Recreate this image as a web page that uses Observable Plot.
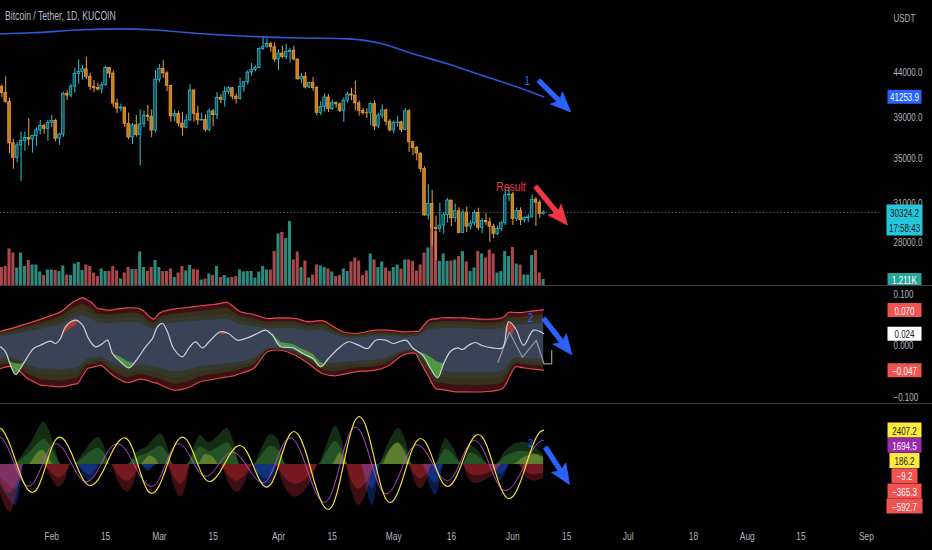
<!DOCTYPE html>
<html><head><meta charset="utf-8">
<script src="https://cdn.jsdelivr.net/npm/d3@7"></script>
<script src="https://cdn.jsdelivr.net/npm/@observablehq/plot@0.6"></script>
<style>
html,body{margin:0;padding:0;background:#000;}
#chart{position:relative;width:932px;height:550px;background:#000;overflow:hidden;font-family:"Liberation Sans",Arial,sans-serif;}
.layer{position:absolute;left:0;}
.layer svg{display:block;}
.sep{position:absolute;left:0;width:932px;height:1px;background:#3a3e49;}
#title{position:absolute;left:5px;top:9px;color:#b8bcc6;font-size:12px;white-space:nowrap;transform:scaleX(0.72);transform-origin:0 50%;}
</style></head><body>
<div id="chart"></div>
<script>
// ---------- DATA ----------
const startDay = Date.UTC(2022, 0, 18); // first candle: 2022-01-18
const DAY = 864e5;
const dayToDate = d => new Date(startDay + d * DAY);

const opens = [42195,42364,41660,40680,36445,35071,36244,36660,36958,36809,37160,37716,38166,37881,38466,38694,36896,37311,41571,41382,42380,43839,44043,44373,43495,42373,42217,42053,42535,44544,43873,40516,39975,40080,38387,37018,38231,37250,38328,39219,39116,37699,43160,44421,43892,42455,39148,39397,38420,37988,38731,41941,39422,38730,38807,37777,39671,39280,41114,40917,41757,42201,41262,41002,42364,42882,43991,44313,44511,46827,47128,47466,47062,45539,46281,45868,46454,46623,45555,43206,43503,42287,42782,42207,39521,40127,41166,39935,40553,40424,39716,40827,41502,41374,40527,39741,39486,39470,40458,38120,39241,39773,38609,37714,38469,38529,37751,39690,36552,36013,35472,34038,30077,31017,29103,29030,29287,30101,31305,29862,30425,28716,30319,29201,29445,30293,29109,29655,29543,29202,28627,29031,29468,31734,31801,29805,30452,29700,29865,29920,31373,31125,30196];
const highs = [42691,42560,43505,41100,36835,36499,37550,37545,38920,37234,38000,38720,38359,38744,39265,38855,37387,41772,41913,42656,44500,45492,44799,45821,43920,43079,42760,42842,44751,44549,44164,40959,40444,40126,39495,38432,39250,39843,39683,40300,39855,44225,44949,45400,44101,42527,39794,39693,39547,39362,42594,42039,40236,39486,39310,39947,39887,41718,41478,42325,42400,42296,41544,43361,42893,44220,45094,44792,46999,48190,48096,47700,47600,46720,47213,47444,46891,47200,45555,43900,43970,42800,43410,42414,40700,41561,41500,40870,40709,40596,41116,41760,42199,42976,40795,39980,39940,40617,40798,39474,40372,39925,38795,38675,39167,38653,39980,39845,36650,36146,35514,34243,32659,32163,30033,31083,30343,31460,31305,31020,30700,30545,30777,29660,30487,30670,29835,30223,29886,29400,29251,29588,32222,32399,31982,30689,30699,29956,30168,31765,31558,31330,30440];
const lows = [41250,41138,40553,35440,34008,34601,32917,35701,36193,35507,36155,37268,37351,36632,38000,36586,36250,37026,40843,41116,41645,42666,43117,43174,41938,41688,41870,41550,42428,43307,40073,39450,39639,38000,36800,36350,37036,34322,38014,38600,37000,37451,42809,43334,41832,38550,38587,38089,37155,37867,38657,38539,38223,38660,37578,37555,38098,38828,40500,40135,41499,40911,40467,40875,41751,42566,43579,44072,44421,46664,46950,46445,45200,44200,45620,45530,45118,45353,43121,42727,42107,42126,41868,39200,39254,39588,39551,39766,40020,39546,38536,40571,40820,39751,39177,39285,38929,38200,37702,37881,38881,38175,37578,37386,38052,37500,37671,35571,35258,34785,33713,30033,29730,27785,26700,28751,28630,29480,29192,29531,28654,28670,28730,28938,29255,28894,28669,29295,28019,28282,28517,28813,29300,31200,29301,29594,29282,29485,29508,29889,29219,29850,30120];
const closes = [42364,41660,40680,36445,35071,36244,36660,36958,36809,37160,37716,38166,37881,38466,38694,36896,37311,41574,41382,42380,43839,44042,44373,43495,42373,42217,42053,42535,44544,43873,40515,39975,40080,38387,37018,38231,37250,38328,39219,39116,37700,43160,44421,43892,42455,39148,39397,38420,37988,38731,41941,39422,38730,38807,37777,39671,39280,41114,40917,41757,42201,41262,41002,42364,42882,43991,44313,44511,46827,47128,47465,47062,45539,46281,45868,46454,46623,45555,43206,43503,42287,42782,42207,39521,40127,41166,39935,40553,40424,39716,40826,41502,41374,40527,39741,39486,39470,40458,38120,39241,39773,38609,37714,38469,38529,37751,39690,36552,36013,35472,34038,30077,31017,29103,29030,29287,30101,31305,29862,30425,28716,30319,29201,29445,30293,29109,29655,29543,29202,28627,29031,29468,31734,31801,29805,30452,29700,29865,29920,31373,31125,30196,30324.2];
// volume, thousands of BTC
const volumes = [4.0,3.6,3.8,7.3,6.5,3.5,6.5,3.8,5.0,4.1,4.1,2.7,2.0,3.1,3.1,3.0,2.8,3.9,2.1,2.0,4.3,4.6,3.0,4.1,3.8,2.5,1.8,3.3,2.8,2.8,3.8,2.9,1.3,2.5,3.6,3.2,3.2,6.7,3.6,2.8,3.6,5.0,3.6,2.8,2.8,3.3,1.6,2.5,3.8,2.9,4.0,3.2,3.1,1.1,1.3,2.3,2.0,3.8,1.6,2.0,1.5,1.6,1.8,3.1,2.7,2.8,2.8,1.5,2.7,3.8,3.1,3.1,6.8,10.3,10.6,9.4,12.8,5.1,6.7,3.6,4.9,1.5,2.1,4.1,3.9,3.6,3.3,2.7,1.8,2.0,3.3,2.8,4.7,5.5,4.9,2.0,2.9,6.3,5.1,3.6,4.7,3.5,2.8,3.6,4.1,3.3,5.1,5.1,4.8,2.9,4.1,6.5,7.5,11.5,10.8,4.8,6.3,4.8,4.9,5.1,5.8,6.8,4.7,2.8,3.5,6.8,6.3,5.5,7.1,6.3,2.5,2.8,6.8,5.8,7.6,4.3,4.1,2.1,2.1,6.0,7.0,2.5,1.211];
// moving average (blue line), sampled
const maDays = [0,9,22,32,40,53,66,79,91,100,108,117,126,134,142];
const maValues = [48740,48900,49290,49420,49290,48770,48420,48230,48120,47490,46240,45030,43650,42500,41253.9];
const priceTicks = [28000,31000,35000,39000,44000];

// oscillator panel
const bandDays = [0.65,4,7.7,9.2,11.1,12.9,16.3,19.6,20.7,22,23.3,24.1,25.9,26.7,29.3,30.1,33.7,37.1,40.5,41.5,42.3,45.7,49.3,52.7,56.1,57.1,59.7,61.3,63.1,66.5,70.1,73.5,77.4,80.8,84.5,87.8,89.7,93,98.3,101.6,105.3,108.7,109.5,112.1,113.9,115.7,119.1,120.9,126.1,131.3,132.9,134.7,136.5,138.1,142];
const bandUpper = [0.0287,0.0353,0.0436,0.0470,0.0520,0.0567,0.0664,0.0858,0.0894,0.0936,0.0888,0.0858,0.0728,0.0720,0.0695,0.0704,0.0742,0.0715,0.0520,0.0592,0.0650,0.0715,0.0748,0.0781,0.0806,0.0817,0.0845,0.0760,0.0664,0.0612,0.0534,0.0548,0.0534,0.0470,0.0489,0.0354,0.0276,0.0243,0.0307,0.0307,0.0276,0.0285,0.0287,0.0501,0.0525,0.0548,0.0548,0.0548,0.0520,0.0548,0.0650,0.0650,0.0650,0.0670,0.0700];
const bandLower = [-0.0437,-0.0404,-0.0631,-0.0688,-0.0761,-0.0772,-0.0792,-0.0744,-0.0728,-0.0583,-0.0437,-0.0422,-0.0388,-0.0373,-0.0530,-0.0579,-0.0709,-0.0645,-0.0709,-0.0728,-0.0753,-0.0858,-0.0812,-0.0695,-0.0645,-0.0631,-0.0599,-0.0579,-0.0530,-0.0437,-0.0113,-0.0082,-0.0179,-0.0340,-0.0534,-0.0579,-0.0551,-0.0501,-0.0470,-0.0384,-0.0179,-0.0146,-0.0252,-0.0598,-0.0825,-0.0847,-0.0889,-0.0889,-0.0889,-0.0825,-0.0627,-0.0404,-0.0421,-0.0437,-0.0470];
const whiteDays = [0.65,1.95,3.25,4.55,5.86,7.68,9.24,11.06,13.66,14.97,16.27,17.57,20.17,22.0,23.55,25.38,27.2,28.5,29.8,31.9,34.0,36.3,38.4,40.2,41.5,42.8,44.1,45.7,48.0,49.6,51.4,53.2,55.3,57.9,60.0,62.3,64.9,67.5,69.6,71.4,73.5,76.7,79.3,81.9,84.0,86.0,88.6,91.2,93.8,96.2,98.3,100.9,102.9,106.1,108.1,110.5,112.6,114.4,116.0,117.8,119.6,120.9,122.5,124.3,126.1,128.7,131.3,132.9,134.7,136.8,139.4,142];
const whiteValues = [-0.0016,-0.0113,-0.0373,-0.0553,-0.0437,-0.0210,-0.0049,0.0016,0.0093,0.0049,0.0146,0.0373,0.0501,0.0404,0.0146,-0.0016,0.0049,0.0113,-0.0146,-0.0307,-0.0423,-0.0243,-0.0016,0.0146,0.0373,0.0437,0.0276,-0.0049,-0.0210,-0.0049,0.0082,-0.0035,0.0113,0.0276,0.0243,0.0113,0.0159,0.0243,0.0307,0.0210,-0.0010,-0.0035,-0.0146,-0.0243,-0.0404,-0.0243,-0.0049,0.0082,0.0016,-0.0049,0.0113,0.0113,0.0049,0.0113,-0.0049,-0.0179,-0.0437,-0.0617,-0.0340,-0.0101,-0.0035,-0.0068,0.0016,0.0068,0.0004,-0.0035,-0.0035,0.0470,0.0340,0.0016,0.0307,0.024];
const zigDays = [130.1,133.1,136.5,140.1,142.1,144.1,144.1];
const zigValues = [-0.0315,0.0268,-0.0217,0.0107,-0.0346,-0.0346,-0.0087];
// [day, low, high]
const greenPatches = [
  [[2.0,-0.011,-0.011],[3.25,-0.037,-0.031],[4.55,-0.055,-0.034],[5.86,-0.044,-0.035],[7.0,-0.031,-0.031]],
  [[29.8,-0.0146,-0.0146],[31.9,-0.0307,-0.022],[34.0,-0.0423,-0.031],[35.3,-0.033,-0.033]],
  [[71.4,0.021,0.026],[73.5,-0.001,0.008],[76.7,-0.0035,0.003],[79.3,-0.0146,-0.007],[81.9,-0.0243,-0.016],[84.0,-0.0404,-0.032],[85.0,-0.034,-0.034]],
  [[109.5,-0.012,-0.012],[110.5,-0.0179,-0.014],[112.6,-0.0437,-0.022],[114.4,-0.0617,-0.031],[116.0,-0.034,-0.034]]
];
const redPatches = [
  [[16.27,0.0146,0.0146],[17.57,0.026,0.0373],[19.0,0.034,0.046],[20.17,0.040,0.0501],[21.0,0.046,0.046]],
  [[57.4,0.025,0.025],[58.5,0.022,0.028],[59.5,0.024,0.024]],
  [[132.0,0.022,0.022],[132.9,0.027,0.047],[133.8,0.022,0.040],[134.7,0.034,0.034]]
];
const oscTicks = [0.1, 0, -0.1];

// wave panel (daily)
const yellowWave = [2600,2463,2066,1460,717,-77,-820,-1426,-1823,-1960,-1768,-1231,-456,406,1181,1718,1910,1781,1415,867,220,-427,-975,-1341,-1470,-1370,-1079,-635,-91,491,1035,1479,1770,1870,1677,1135,355,-515,-1295,-1837,-2030,-1880,-1453,-814,-60,694,1333,1760,1910,1757,1326,706,14,-606,-1037,-1190,-1094,-821,-413,70,553,961,1234,1330,1185,780,196,-456,-1040,-1445,-1590,-1397,-855,-75,795,1575,2117,2310,2146,1671,945,55,-895,-1785,-2511,-2986,-3150,-2903,-2196,-1142,105,1352,2406,3113,3360,3131,2478,1503,350,-803,-1778,-2431,-2660,-2490,-2004,-1278,-420,438,1164,1650,1820,1654,1187,515,-235,-907,-1374,-1540,-1402,-1007,-417,280,977,1567,1962,2100,1930,1444,718,-140,-998,-1724,-2210,-2380,-2236,-1820,-1183,-403,430,1210,1847,2263,2407.2];
const purpleWave = [1980,1847,1467,900,230,-440,-1007,-1387,-1520,-1373,-960,-366,296,890,1303,1450,1350,1063,636,130,-376,-803,-1090,-1190,-1090,-803,-376,130,636,1063,1350,1450,1360,1100,703,215,-305,-793,-1190,-1450,-1540,-1392,-976,-378,288,886,1302,1450,1338,1022,568,62,-392,-708,-820,-737,-503,-167,207,543,777,860,779,546,200,-210,-620,-966,-1199,-1280,-1124,-686,-56,646,1276,1714,1870,1735,1342,743,7,-777,-1513,-2112,-2505,-2640,-2440,-1871,-1020,-15,990,1841,2410,2610,2433,1927,1172,280,-612,-1367,-1873,-2050,-1920,-1547,-992,-335,322,877,1250,1380,1285,1014,609,130,-349,-754,-1025,-1120,-981,-592,-32,592,1152,1541,1680,1547,1167,600,-70,-740,-1307,-1687,-1820,-1734,-1484,-1096,-606,-63,480,970,1359,1608,1694.5];
const greenPts = [[0.65,0],[4,0],[7,900],[9,1700],[11,2700],[12,2960],[13.5,2300],[15,1000],[16.5,0],[19.7,0],[22,700],[24.5,1600],[26,1910],[27.5,1400],[29.3,0],[33.7,0],[36,800],[39,1300],[41,1900],[42.3,2150],[44,1400],[45.7,0],[49.3,0],[51,1200],[52.7,2030],[55,1500],[57,1900],[59.7,2520],[61.5,1500],[63.1,0],[66.5,0],[68.5,1000],[70.9,2100],[73,1700],[75,0],[83.4,0],[85.5,1300],[87.8,2680],[89.5,1800],[91.2,0],[99,0],[101.5,1400],[104.2,2520],[106,1800],[108,0],[113.9,0],[115.5,1200],[116.5,1820],[118.5,1200],[120.9,0],[123,1330],[125.5,800],[127.7,0],[129.5,0],[132,900],[136.5,1560],[139.5,1300],[142,700]];
const yellowPts = [[0.65,0],[8,0],[10,700],[11.5,1000],[13,600],[14.5,0],[37,0],[39.5,600],[41,400],[42,0],[52,0],[54,700],[56,500],[57.5,0],[87,0],[89,800],[91,0],[100,0],[102,1000],[104,1500],[106,800],[107.5,0],[134,0],[137,500],[140,700],[142,500]];
const redPts = [[0.65,-2000],[2,-3000],[3.3,-3340],[4.5,-2500],[6,-800],[6.6,0],[11.8,0],[14,-1000],[15.8,-1590],[17.5,-1100],[19,0],[29.3,0],[31.5,-1300],[33.7,-1940],[35.5,-1300],[37.1,0],[44,0],[46,-1600],[47.5,-2290],[49,-1500],[50.1,0],[57.9,0],[60,-1300],[62.3,-1940],[64.5,-1200],[66.5,0],[72.2,0],[74.5,-1500],[77.4,-2290],[80,-1800],[82,-900],[83.4,0],[90.4,0],[92,-1800],[93.8,-2870],[96,-2000],[98.3,0],[106.8,0],[108.5,-1200],[110,-1680],[111.8,-1000],[113.1,0],[120.9,0],[122.5,-1000],[124.3,-1330],[127,-1100],[129.5,-600],[131.3,0],[135.5,0],[137.5,-900],[139.5,-1170],[142,-1000]];
const bluePts = [[0.65,-1500],[2.5,-2300],[4.6,-2870],[5.8,-1800],[6.8,0],[20.5,0],[22.5,-900],[24,-1240],[25.5,-600],[26.5,0],[37.1,0],[39,-500],[41.5,0],[66,0],[68,-1200],[69.6,-1700],[71.5,-1200],[73,0],[94.5,0],[96,-1800],[97.5,-2870],[98.5,-1800],[99.5,0],[110.5,0],[112.5,-1500],[113.9,-2170],[115,-1300],[116,0],[128,0],[130,-900],[130.8,-1170],[132,-700],[133,0]];

const tickDates = ["2022-02-01","2022-02-15","2022-03-01","2022-03-15","2022-04-01","2022-04-15","2022-05-01","2022-05-16","2022-06-01","2022-06-15","2022-07-01","2022-07-18","2022-08-01","2022-08-15","2022-09-01"];
const tickLabels = ["Feb","15","Mar","15","Apr","15","May","16","Jun","15","Jul","18","Aug","15","Sep"];

// annotations
const priceNotes = [{day:137.7, value:43074, text:"1", color:"#2962ff"}, {day:133.5, value:32490, text:"Result", color:"#f23645"}];
const priceArrows = [{day:140.7, value:43074, angle:134.4, length:45, color:"#2962ff"}, {day:139.9, value:32490, angle:140.4, length:50, color:"#f23645"}];
const oscNotes = [{day:138.6, value:0.0534, text:"2", color:"#2962ff"}];
const oscArrows = [{day:142, value:0.0534, angle:142, length:46, color:"#2962ff"}];
const waveNotes = [{day:138.6, value:1470, text:"3", color:"#2962ff"}];
const waveArrows = [{day:142.5, value:1190, angle:147, length:44, color:"#2962ff"}];

// ---------- BUILD ----------
const FONT = '"Liberation Sans",Arial,sans-serif';
const AXIS = "#b2b5be";
const W = 932, MR = 50;
const xOpts = () => ({type: "utc", domain: [dayToDate(0.65), dayToDate(230.2)], axis: null});
const baseStyle = {background: "transparent", color: AXIS, fontFamily: FONT, fontSize: "10px", overflow: "visible"};
const UP_EDGE = "#2ec4d6", UP_FILL = "#12535d", DN_EDGE = "#f0a43a", DN_FILL = "#c57d1f";

const candles = opens.map((o, i) => ({date: dayToDate(i), open: o, high: highs[i], low: lows[i], close: closes[i], volume: volumes[i], up: closes[i] >= o}));
const upC = candles.filter(d => d.up), dnC = candles.filter(d => !d.up);
const lastPrice = closes[closes.length - 1];
const maTable = maDays.map((d, i) => ({date: dayToDate(d), v: maValues[i]}));
const band = bandDays.map((d, i) => ({date: dayToDate(d), up: bandUpper[i], lo: bandLower[i]}));
const white = whiteDays.map((d, i) => ({date: dayToDate(d), v: whiteValues[i]}));
const zig = zigDays.map((d, i) => ({date: dayToDate(d), v: zigValues[i]}));
const flatPatches = list => list.flatMap((p, k) => p.map(([d, lo, hi]) => ({date: dayToDate(d), lo, hi, k})));
const waveTable = yellowWave.map((v, i) => ({date: dayToDate(i), y: v, p: purpleWave[i]}));
const pts = list => list.map(([d, v]) => ({date: dayToDate(d), v}));

function boxSymbol(w, h) {
  return {draw(ctx) { ctx.moveTo(-w/2, -h/2); ctx.lineTo(w/2, -h/2); ctx.lineTo(w/2, h/2); ctx.lineTo(-w/2, h/2); ctx.closePath(); }};
}
function valueBox(y, label, fill, ink, {dy = 0, w = 34, h = 14} = {}) {
  return [
    Plot.dot([y], {y: d => d, frameAnchor: "right", dx: 22, dy, r: 5, symbol: boxSymbol(w, h), fill, stroke: "none"}),
    Plot.text([y], {y: d => d, frameAnchor: "right", dx: 22, dy, text: () => label, fill: ink, fontSize: 10, textAnchor: "middle", lineHeight: 1.45})
  ];
}
const arrowShape = {draw(ctx, l) {
  const s = 2.3, hw = 8.5, hl = 17;
  ctx.moveTo(-s, 0); ctx.lineTo(-s, -(l - hl)); ctx.lineTo(-hw, -(l - hl) + 3); ctx.lineTo(0, -l);
  ctx.lineTo(hw, -(l - hl) + 3); ctx.lineTo(s, -(l - hl)); ctx.lineTo(s, 0); ctx.closePath();
}};
const noteMarks = (notes, size) => notes.map(n => Plot.text([n], {x: d => dayToDate(d.day), y: "value", text: "text", fill: n.color, fontSize: size}));
const arrowMarks = arrows => arrows.map(a => Plot.vector([a], {x: d => dayToDate(d.day), y: "value", rotate: a.angle, length: a.length, anchor: "start", shape: arrowShape, fill: a.color, stroke: a.color, strokeWidth: 0.8}));

const chart = document.getElementById("chart");
function addLayer(svg, top) { const d = document.createElement("div"); d.className = "layer"; d.style.top = top + "px"; d.appendChild(svg); chart.appendChild(d); }

// volume layer
addLayer(Plot.plot({
  width: W, height: 285, marginTop: 0, marginBottom: 0, marginLeft: 0, marginRight: MR,
  style: baseStyle, x: xOpts(), y: {domain: [0, 57], axis: null},
  marks: [
    Plot.rect(upC, {x1: d => new Date(+d.date - 0.4 * DAY), x2: d => new Date(+d.date + 0.4 * DAY), y1: 0, y2: "volume", fill: "#2a8a7e"}),
    Plot.rect(dnC, {x1: d => new Date(+d.date - 0.4 * DAY), x2: d => new Date(+d.date + 0.4 * DAY), y1: 0, y2: "volume", fill: "#a9484a"}),
    valueBox(volumes[volumes.length - 1], "1.211K", "#26a69a", "#ffffff", {h: 13})
  ]
}), 0);

// price layer
addLayer(Plot.plot({
  width: W, height: 285, marginTop: 0, marginBottom: 0, marginLeft: 0, marginRight: MR,
  style: baseStyle, x: xOpts(), y: {type: "log", domain: [24971, 53287], axis: null},
  marks: [
    Plot.ruleY([lastPrice], {stroke: "#6b6f7a", strokeDasharray: "1,2.5"}),
    Plot.line(maTable, {x: "date", y: "v", stroke: "#2f55d4", strokeWidth: 1.6, curve: "monotone-x"}),
    Plot.ruleX(upC, {x: "date", y1: "low", y2: "high", stroke: UP_EDGE, strokeWidth: 1}),
    Plot.ruleX(dnC, {x: "date", y1: "low", y2: "high", stroke: DN_EDGE, strokeWidth: 1}),
    Plot.rect(upC, {x1: d => new Date(+d.date - 0.34 * DAY), x2: d => new Date(+d.date + 0.34 * DAY), y1: "open", y2: "close", fill: UP_FILL, stroke: UP_EDGE, strokeWidth: 0.7}),
    Plot.rect(dnC, {x1: d => new Date(+d.date - 0.34 * DAY), x2: d => new Date(+d.date + 0.34 * DAY), y1: "open", y2: "close", fill: DN_FILL, stroke: DN_EDGE, strokeWidth: 0.7}),
    noteMarks(priceNotes, 13),
    arrowMarks(priceArrows),
    Plot.axisY(priceTicks, {anchor: "right", tickSize: 0, tickPadding: 11, tickFormat: d3.format(".1f"), fill: AXIS, fontSize: 10}),
    Plot.text(["USDT"], {frameAnchor: "top-right", dx: 11, dy: 14, text: d => d, textAnchor: "start", fill: AXIS, fontSize: 10}),
    valueBox(maValues[maValues.length - 1], "41253.9", "#2962ff", "#ffffff"),
    valueBox(lastPrice, "30324.2\n17:58:43", "#26c6da", "#131722", {dy: 7.5, h: 31, w: 36})
  ]
}), 0);

// oscillator layer
addLayer(Plot.plot({
  width: W, height: 117, marginTop: 0, marginBottom: 0, marginLeft: 0, marginRight: MR,
  style: baseStyle, x: xOpts(), y: {domain: [-0.11165, 0.11553], axis: null},
  marks: [
    Plot.areaY(band, {x: "date", y1: "lo", y2: "up", fill: "#3c1113", curve: "catmull-rom"}),
    Plot.areaY(band, {x: "date", y1: d => d.lo * 0.86, y2: d => d.up * 0.86, fill: "#36311b", curve: "catmull-rom"}),
    Plot.areaY(band, {x: "date", y1: d => d.lo * 0.72, y2: d => d.up * 0.74, fill: "#37382c", curve: "catmull-rom"}),
    Plot.areaY(band, {x: "date", y1: d => d.lo * 0.58, y2: d => d.up * 0.62, fill: "#3a4356", curve: "catmull-rom"}),
    Plot.line(band, {x: "date", y: "up", stroke: "#e5484d", strokeWidth: 1.2, curve: "catmull-rom"}),
    Plot.line(band, {x: "date", y: "lo", stroke: "#e5484d", strokeWidth: 1.2, curve: "catmull-rom"}),
    Plot.areaY(flatPatches(greenPatches), {x: "date", y1: "lo", y2: "hi", z: "k", fill: "#52a83c", fillOpacity: 0.85, curve: "catmull-rom"}),
    Plot.areaY(flatPatches(redPatches), {x: "date", y1: "lo", y2: "hi", z: "k", fill: "#c0392b", fillOpacity: 0.85, curve: "catmull-rom"}),
    Plot.line(zig, {x: "date", y: "v", stroke: "#9598a1", strokeWidth: 1.2}),
    Plot.line(white, {x: "date", y: "v", stroke: "#cdd1d9", strokeWidth: 1.2, curve: "catmull-rom"}),
    noteMarks(oscNotes, 12),
    arrowMarks(oscArrows),
    Plot.axisY(oscTicks, {anchor: "right", tickSize: 0, tickPadding: 11, tickFormat: d3.format(".3f"), fill: AXIS, fontSize: 10}),
    valueBox(bandUpper[bandUpper.length - 1], "0.070", "#f05350", "#ffffff"),
    valueBox(whiteValues[whiteValues.length - 1], "0.024", "#ffffff", "#131722"),
    valueBox(bandLower[bandLower.length - 1], "\u22120.047", "#f05350", "#ffffff")
  ]
}), 286);

// wave layer with date axis
const labelMap = new Map(tickDates.map((s, i) => [+new Date(s + "T00:00:00Z"), tickLabels[i]]));
const waveBoxes = [["2407.2", "#ffeb3b", "#131722", 34], ["1694.5", "#9c27b0", "#ffffff", 34], ["186.2", "#ffeb3b", "#131722", 30], ["\u22129.2", "#f05350", "#ffffff", 26], ["\u2212365.3", "#f05350", "#ffffff", 34], ["\u2212592.7", "#f05350", "#ffffff", 36]];
addLayer(Plot.plot({
  width: W, height: 146, marginTop: 0, marginBottom: 23, marginLeft: 0, marginRight: MR,
  style: baseStyle, x: xOpts(), y: {domain: [-4410, 4200], axis: null},
  marks: [
    Plot.areaY(pts(bluePts), {x: "date", y1: 0, y2: "v", fill: "#2962ff", fillOpacity: 0.28, curve: "monotone-x"}),
    Plot.areaY(pts(bluePts), {x: "date", y1: 0, y2: d => d.v * 0.6, fill: "#2962ff", fillOpacity: 0.3, curve: "monotone-x"}),
    Plot.areaY(pts(redPts), {x: "date", y1: 0, y2: "v", fill: "#f23645", fillOpacity: 0.26, curve: "monotone-x"}),
    Plot.areaY(pts(redPts), {x: "date", y1: 0, y2: d => d.v * 0.6, fill: "#f23645", fillOpacity: 0.3, curve: "monotone-x"}),
    Plot.areaY(pts(greenPts), {x: "date", y1: 0, y2: "v", fill: "#4caf50", fillOpacity: 0.26, curve: "monotone-x"}),
    Plot.areaY(pts(greenPts), {x: "date", y1: 0, y2: d => d.v * 0.6, fill: "#4caf50", fillOpacity: 0.3, curve: "monotone-x"}),
    Plot.areaY(pts(yellowPts), {x: "date", y1: 0, y2: "v", fill: "#e8e040", fillOpacity: 0.3, curve: "monotone-x"}),
    Plot.line(waveTable, {x: "date", y: "p", stroke: "#b848cc", strokeWidth: 1, curve: "catmull-rom"}),
    Plot.line(waveTable, {x: "date", y: "y", stroke: "#f2e23a", strokeWidth: 1.2, curve: "catmull-rom"}),
    noteMarks(waveNotes, 11),
    arrowMarks(waveArrows),
    Plot.axisX([...labelMap.keys()].map(t => new Date(t)), {anchor: "bottom", tickSize: 0, tickPadding: 5, tickFormat: d => labelMap.get(+d), fill: AXIS, fontSize: 10.5}),
    waveBoxes.map(([label, fill, ink, w], k) => valueBox(yellowWave[yellowWave.length - 1], label, fill, ink, {dy: k * 15.2, w, h: 15}))
  ]
}), 404);

// separators and title
for (const top of [285, 403]) { const s = document.createElement("div"); s.className = "sep"; s.style.top = top + "px"; chart.appendChild(s); }
const t = document.createElement("div"); t.id = "title"; t.textContent = "Bitcoin / Tether, 1D, KUCOIN"; chart.appendChild(t);

// condensed lettering, as in the reference screenshot
chart.querySelectorAll("svg text").forEach(el => {
  const spans = el.querySelectorAll("tspan");
  (spans.length ? Array.from(spans) : [el]).forEach(s => {
    const L = s.getComputedTextLength();
    if (L > 0) { s.setAttribute("textLength", (L * 0.8).toFixed(2)); s.setAttribute("lengthAdjust", "spacingAndGlyphs"); }
  });
});
</script>
</body></html>
